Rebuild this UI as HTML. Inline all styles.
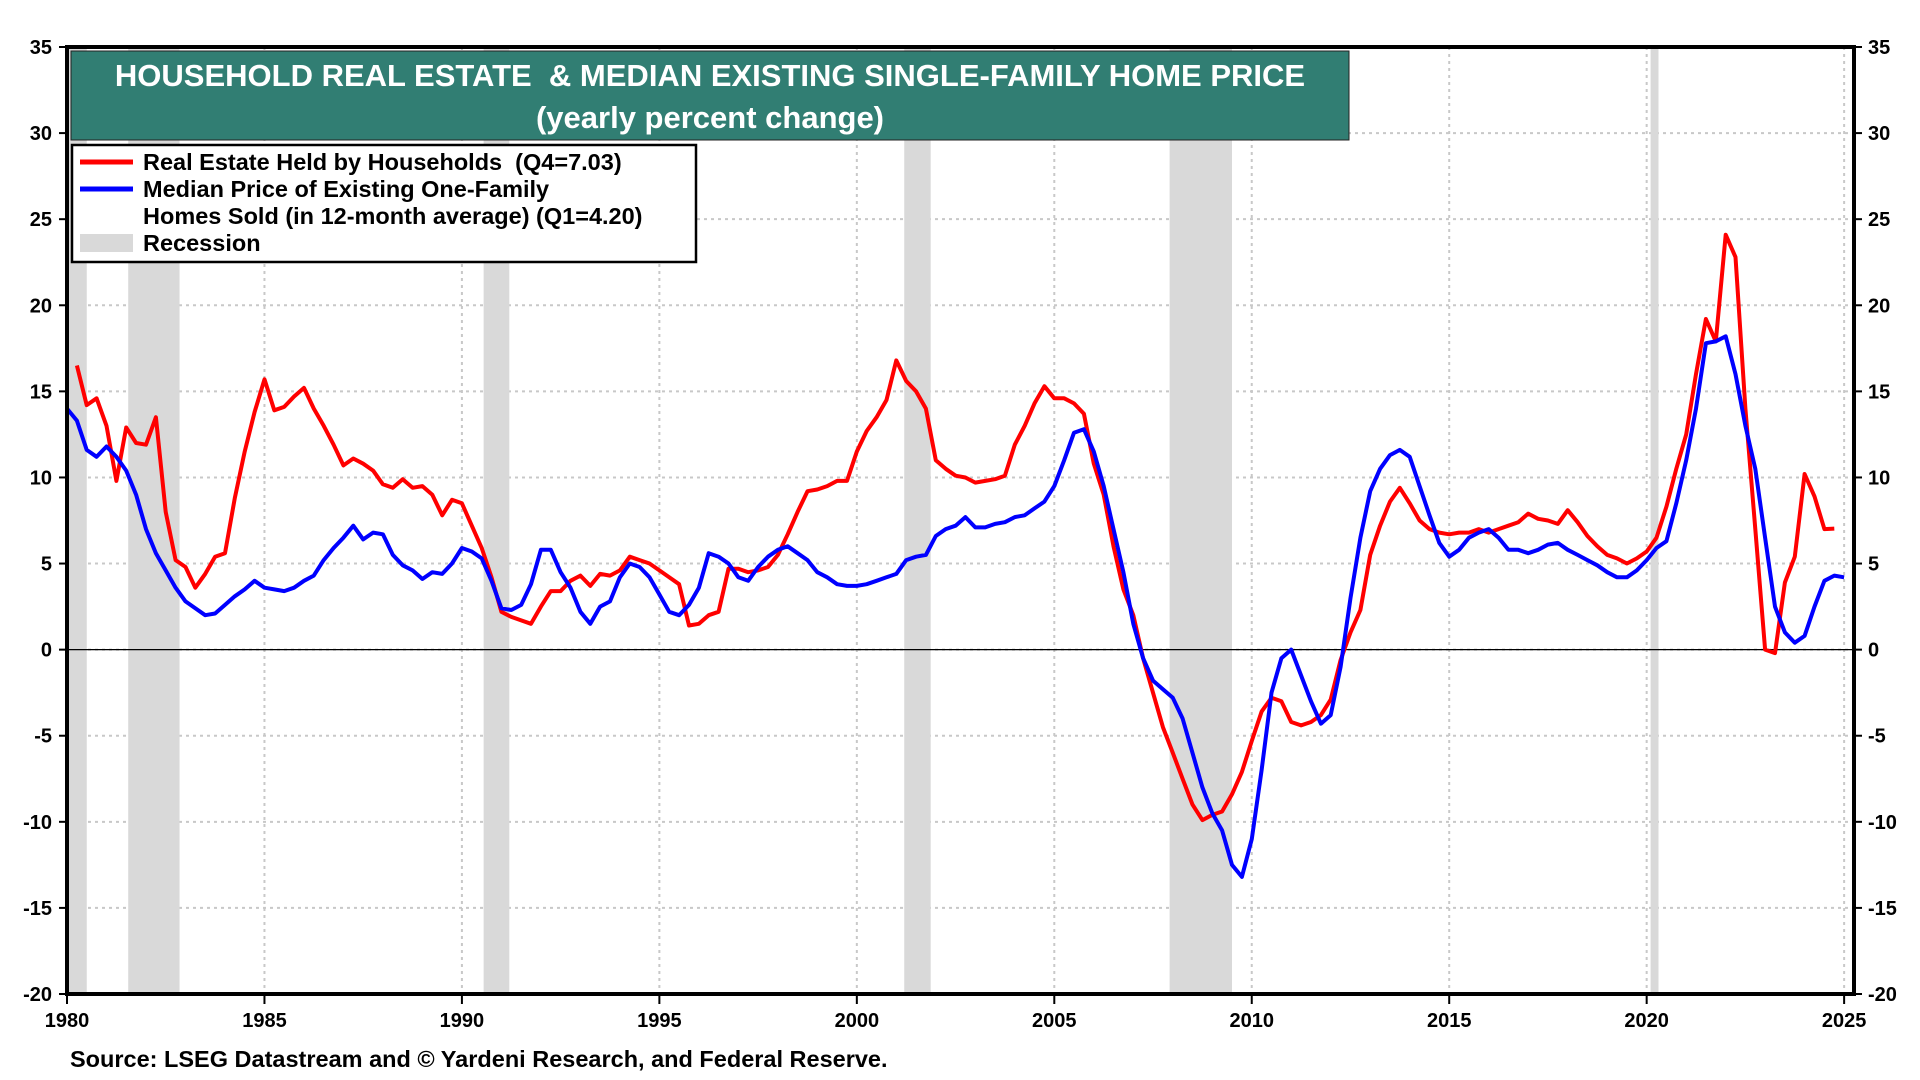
<!DOCTYPE html>
<html><head><meta charset="utf-8"><style>
body{margin:0;background:#fff;width:1920px;height:1080px;overflow:hidden;font-family:"Liberation Sans",Arial,sans-serif}
svg{display:block}
text{font-family:"Liberation Sans",Arial,sans-serif;font-weight:bold}
</style></head><body>
<svg id="chart" width="1920" height="1080" viewBox="0 0 1920 1080">
<g id="grid"></g>
<g id="rec"></g>
<line id="zero" stroke="#000" stroke-width="1.2"/>
<path id="red" fill="none" stroke="#ff0000" stroke-width="4" stroke-linejoin="round"/>
<path id="blue" fill="none" stroke="#0000ff" stroke-width="4" stroke-linejoin="round"/>
<rect x="67" y="47" width="1787" height="947" fill="none" stroke="#000" stroke-width="4"/>
<g id="axes"></g>
<g>
<rect x="71" y="51" width="1278" height="89" fill="#317e73" stroke="#222" stroke-width="1"/>
<text x="710" y="86" fill="#fff" font-size="31" text-anchor="middle">HOUSEHOLD REAL ESTATE&#160; &amp; MEDIAN EXISTING SINGLE-FAMILY HOME PRICE</text>
<text x="710" y="128" fill="#fff" font-size="31" text-anchor="middle">(yearly percent change)</text>
</g>
<g>
<rect x="72" y="145" width="624" height="117" fill="#fff" stroke="#000" stroke-width="2.5"/>
<line x1="80" y1="162" x2="133" y2="162" stroke="#ff0000" stroke-width="5"/>
<text x="143" y="170" font-size="23.5">Real Estate Held by Households&#160; (Q4=7.03)</text>
<line x1="80" y1="189" x2="133" y2="189" stroke="#0000ff" stroke-width="5"/>
<text x="143" y="197" font-size="23.5">Median Price of Existing One-Family</text>
<text x="143" y="224" font-size="23.5">Homes Sold (in 12-month average) (Q1=4.20)</text>
<rect x="80" y="234" width="53" height="18" fill="#d9d9d9"/>
<text x="143" y="251" font-size="23.5">Recession</text>
</g>
<text x="70" y="1067" font-size="23.5">Source: LSEG Datastream and © Yardeni Research, and Federal Reserve.</text>
</svg>
<script>
const recStart=[1980.0,1981.55,1990.55,2001.2,2007.92,2020.1];
const recEnd=[1980.5,1982.85,1991.2,2001.87,2009.5,2020.3];
const yTicks=[-20,-15,-10,-5,0,5,10,15,20,25,30,35];
const xTicks=[1980,1985,1990,1995,2000,2005,2010,2015,2020,2025];
const redT=[];for(let i=0;i<180;i++)redT.push(1980.25+i*0.25);
const redV=[16.5,14.2,14.6,13,9.8,12.9,12,11.9,13.5,8,5.2,4.8,3.6,4.4,5.4,5.6,8.8,11.5,13.8,15.7,13.9,14.1,14.7,15.2,14,13,11.9,10.7,11.1,10.8,10.4,9.6,9.4,9.9,9.4,9.5,9,7.8,8.7,8.5,7.2,5.9,4.2,2.2,1.9,1.7,1.5,2.5,3.4,3.4,4,4.3,3.7,4.4,4.3,4.6,5.4,5.2,5,4.6,4.2,3.8,1.4,1.5,2,2.2,4.7,4.7,4.5,4.6,4.8,5.5,6.7,8,9.2,9.3,9.5,9.8,9.8,11.5,12.7,13.5,14.5,16.8,15.6,15,14,11,10.5,10.1,10,9.7,9.8,9.9,10.1,11.9,13,14.3,15.3,14.6,14.6,14.3,13.7,10.8,9,6,3.5,2,-0.5,-2.5,-4.5,-6,-7.5,-9,-9.9,-9.6,-9.4,-8.4,-7.1,-5.3,-3.6,-2.8,-3,-4.2,-4.4,-4.2,-3.8,-2.9,-0.6,1,2.3,5.5,7.2,8.6,9.4,8.5,7.5,7,6.8,6.7,6.8,6.8,7,6.8,7,7.2,7.4,7.9,7.6,7.5,7.3,8.1,7.4,6.6,6,5.5,5.3,5,5.3,5.7,6.5,8.3,10.5,12.5,16,19.2,17.9,24.1,22.8,14,7,0,-0.2,3.9,5.4,10.2,8.9,7,7.03];
const blueT=[];for(let i=0;i<181;i++)blueT.push(1980+i*0.25);
const blueV=[14,13.3,11.6,11.2,11.8,11.2,10.4,9,7,5.6,4.6,3.6,2.8,2.4,2,2.1,2.6,3.1,3.5,4,3.6,3.5,3.4,3.6,4,4.3,5.2,5.9,6.5,7.2,6.4,6.8,6.7,5.5,4.9,4.6,4.1,4.5,4.4,5,5.9,5.7,5.3,4,2.4,2.3,2.6,3.8,5.8,5.8,4.5,3.6,2.2,1.5,2.5,2.8,4.2,5,4.8,4.2,3.2,2.2,2,2.6,3.6,5.6,5.4,5,4.2,4,4.8,5.4,5.8,6,5.6,5.2,4.5,4.2,3.8,3.7,3.7,3.8,4,4.2,4.4,5.2,5.4,5.5,6.6,7,7.2,7.7,7.1,7.1,7.3,7.4,7.7,7.8,8.2,8.6,9.5,11,12.6,12.8,11.5,9.5,7,4.5,1.5,-0.5,-1.8,-2.3,-2.8,-4,-6,-8,-9.5,-10.5,-12.5,-13.2,-11,-7,-2.5,-0.5,0,-1.5,-3,-4.3,-3.8,-1,3,6.5,9.2,10.5,11.3,11.6,11.2,9.5,7.8,6.2,5.4,5.8,6.5,6.8,7,6.5,5.8,5.8,5.6,5.8,6.1,6.2,5.8,5.5,5.2,4.9,4.5,4.2,4.2,4.6,5.2,5.9,6.3,8.5,11,14,17.8,17.9,18.2,16,13,10.5,6.5,2.5,1,0.4,0.8,2.5,4,4.3,4.2];
const X0=67,X1=1854,Y0=47,Y1=994,XMIN=1980,XMAX=2025.25,YMIN=-20,YMAX=35;
const xs=t=>X0+(t-XMIN)/(XMAX-XMIN)*(X1-X0);
const ys=v=>Y1-(v-YMIN)/(YMAX-YMIN)*(Y1-Y0);
const NS='http://www.w3.org/2000/svg';
function mk(tag,attrs,parent){const e=document.createElementNS(NS,tag);for(const k in attrs)e.setAttribute(k,attrs[k]);parent.appendChild(e);return e;}
const grid=document.getElementById('grid'),rec=document.getElementById('rec'),axes=document.getElementById('axes');
yTicks.forEach(v=>{
 const g=mk('line',{x1:X0,x2:X1,y1:ys(v),y2:ys(v),stroke:'#c8c8c8','stroke-width':2,'stroke-dasharray':'3,4'},grid);
 
 
 const t1=mk('text',{x:52,y:ys(v)+7,'font-size':20,'text-anchor':'end'},axes);t1.textContent=v;
 
 
 const t2=mk('text',{x:1868,y:ys(v)+7,'font-size':20,'text-anchor':'start'},axes);t2.textContent=v;
 
 
 mk('line',{x1:X0-8,x2:X0,y1:ys(v),y2:ys(v),stroke:'#000','stroke-width':2},axes);
 mk('line',{x1:X1,x2:X1+8,y1:ys(v),y2:ys(v),stroke:'#000','stroke-width':2},axes);
});
xTicks.forEach(t=>{
 const g=mk('line',{x1:xs(t),x2:xs(t),y1:Y0,y2:Y1,stroke:'#c8c8c8','stroke-width':2,'stroke-dasharray':'3,4'},grid);
 
 
 mk('line',{x1:xs(t),x2:xs(t),y1:Y1,y2:Y1+10,stroke:'#000','stroke-width':2},axes);
 const tl=mk('text',{x:xs(t),y:1027,'font-size':20,'text-anchor':'middle'},axes);tl.textContent=t;
 
 
});
recStart.forEach((s,i)=>{
 const r=mk('rect',{x:xs(s),y:Y0,width:xs(recEnd[i])-xs(s),height:Y1-Y0,fill:'#d9d9d9'},rec);
 
 
});
const z=document.getElementById('zero');z.setAttribute('x1',X0);z.setAttribute('x2',X1);z.setAttribute('y1',ys(0));z.setAttribute('y2',ys(0));
function path(T,V){return T.map((t,i)=>(i?'L':'M')+xs(t).toFixed(1)+','+ys(V[i]).toFixed(1)).join('');}
document.getElementById('red').setAttribute('d',path(redT,redV));
document.getElementById('blue').setAttribute('d',path(blueT,blueV));
</script>
</body></html>
